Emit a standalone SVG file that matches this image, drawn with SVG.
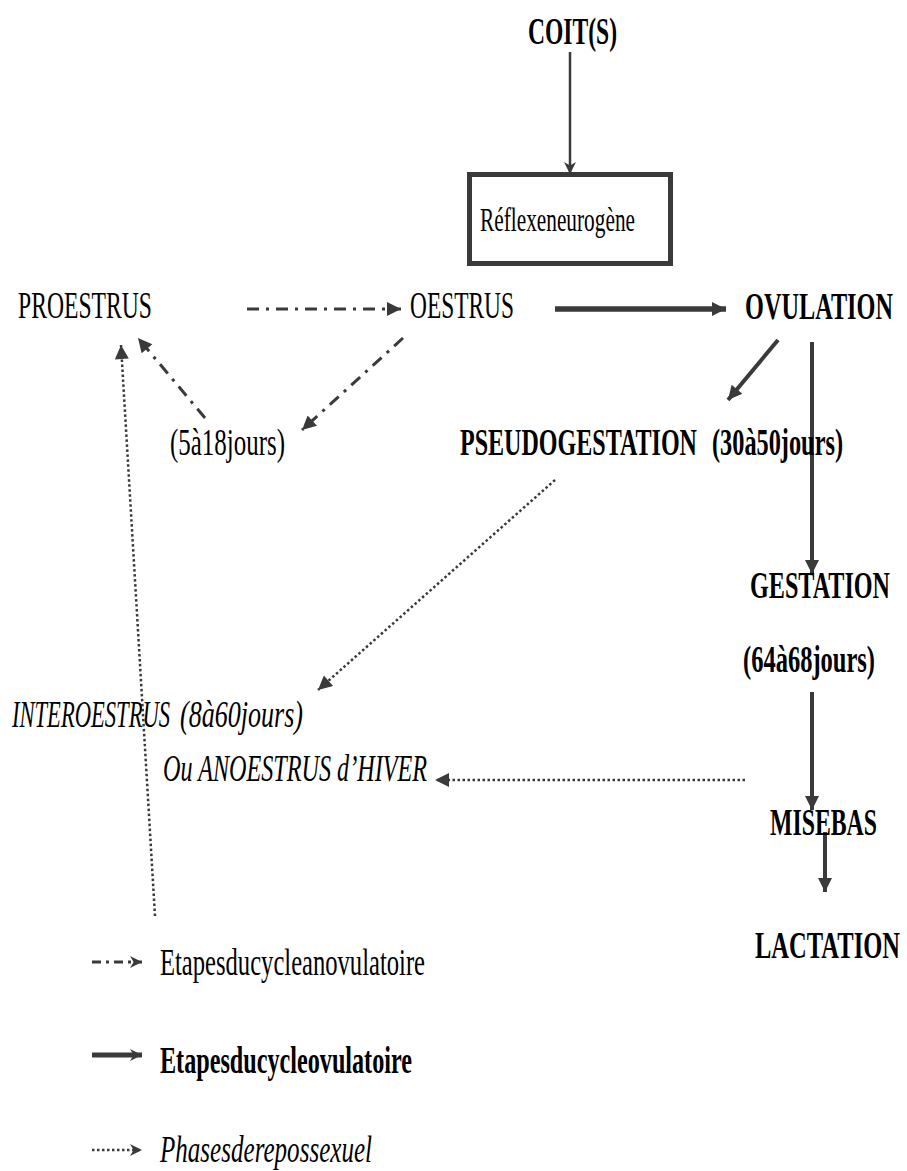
<svg xmlns="http://www.w3.org/2000/svg" width="907" height="1171" viewBox="0 0 907 1171">
<style>
.t{font-family:"Liberation Serif","Times New Roman",serif;fill:#000;font-size:37px}
.b{font-weight:bold}
.i{font-style:italic}
.ln{stroke:#3a3a3a;fill:none}
.dd{stroke-width:3;stroke-dasharray:12 7 3 7}
.dot{stroke-width:2.5;stroke-dasharray:2.5 2.5}
.thick{stroke-width:5.5}
.med{stroke-width:4}
.thin{stroke-width:2.5}
</style>
<defs>
<marker id="ah" viewBox="0 0 10 10" refX="10" refY="5" markerWidth="16" markerHeight="14" markerUnits="userSpaceOnUse" orient="auto"><path d="M0,0 L10,5 L0,10 z" fill="#3a3a3a"/></marker>
<marker id="ahs" viewBox="0 0 10 10" refX="10" refY="5" markerWidth="14" markerHeight="12" markerUnits="userSpaceOnUse" orient="auto"><path d="M0,0 L10,5 L0,10 L3,5 z" fill="#3a3a3a"/></marker>
</defs>
<rect width="907" height="1171" fill="#fff"/>
<g id="connectors">
<line class="ln thin" x1="570" y1="52" x2="570" y2="174" marker-end="url(#ahs)"/>
<line class="ln dd" x1="247" y1="309" x2="401" y2="309" marker-end="url(#ah)"/>
<line class="ln dd" x1="403" y1="338" x2="302" y2="430" marker-end="url(#ah)"/>
<line class="ln dd" x1="205" y1="418" x2="138" y2="338" marker-end="url(#ah)"/>
<line class="ln thick" x1="555" y1="309" x2="726" y2="309" marker-end="url(#ah)"/>
<line class="ln med" x1="778" y1="340" x2="728" y2="400" marker-end="url(#ah)"/>
<line class="ln med" x1="812" y1="342" x2="812" y2="574" marker-end="url(#ah)"/>
<line class="ln med" x1="812" y1="692" x2="812" y2="810" marker-end="url(#ah)"/>
<line class="ln med" x1="825" y1="832" x2="825" y2="892" marker-end="url(#ah)"/>
<line class="ln dot" x1="555" y1="480" x2="318" y2="690" marker-end="url(#ah)"/>
<line class="ln dot" x1="745" y1="780" x2="435" y2="780" marker-end="url(#ah)"/>
<line class="ln dot" x1="155" y1="916" x2="121" y2="345" marker-end="url(#ah)"/>
</g>
<g id="coit"><text class="t b" x="528" y="44" textLength="89" lengthAdjust="spacingAndGlyphs">COIT(S)</text></g>
<g id="reflexe">
<rect x="469.5" y="174.5" width="201" height="89" fill="none" stroke="#3a3a3a" stroke-width="5"/>
<text class="t" x="480" y="231" style="font-size:33px" textLength="155" lengthAdjust="spacingAndGlyphs">Réflexeneurogène</text>
</g>
<g id="proestrus"><text class="t" x="18" y="318" textLength="134" lengthAdjust="spacingAndGlyphs">PROESTRUS</text></g>
<g id="oestrus"><text class="t" x="410" y="318" textLength="104" lengthAdjust="spacingAndGlyphs">OESTRUS</text></g>
<g id="ovulation"><text class="t b" x="745" y="319" textLength="148" lengthAdjust="spacingAndGlyphs">OVULATION</text></g>
<g id="jours5"><text class="t" x="170" y="455" textLength="115" lengthAdjust="spacingAndGlyphs">(5à18jours)</text></g>
<g id="pseudogestation">
<text class="t b" x="460" y="455" textLength="237" lengthAdjust="spacingAndGlyphs">PSEUDOGESTATION</text>
<text class="t b" x="712" y="455" textLength="131" lengthAdjust="spacingAndGlyphs">(30à50jours)</text>
</g>
<g id="gestation">
<text class="t b" x="750" y="598" textLength="140" lengthAdjust="spacingAndGlyphs">GESTATION</text>
<text class="t b" x="743" y="672" textLength="132" lengthAdjust="spacingAndGlyphs">(64à68jours)</text>
</g>
<g id="interoestrus">
<text class="t i" x="12" y="727" textLength="158" lengthAdjust="spacingAndGlyphs">INTEROESTRUS</text>
<text class="t i" x="180" y="727" textLength="123" lengthAdjust="spacingAndGlyphs">(8à60jours)</text>
<text class="t i" x="163" y="781" textLength="264" lengthAdjust="spacingAndGlyphs">Ou ANOESTRUS d’HIVER</text>
</g>
<g id="misebas"><text class="t b" x="770" y="835" textLength="107" lengthAdjust="spacingAndGlyphs">MISEBAS</text></g>
<g id="lactation"><text class="t b" x="755" y="958" textLength="145" lengthAdjust="spacingAndGlyphs">LACTATION</text></g>
<g id="legend">
<line class="ln" stroke-width="3" stroke-dasharray="9 5 3 5" x1="92" y1="962" x2="142" y2="962" marker-end="url(#ahs)"/>
<text class="t" x="160" y="975" textLength="265" lengthAdjust="spacingAndGlyphs">Etapesducycleanovulatoire</text>
<line class="ln" stroke-width="5" x1="92" y1="1055" x2="142" y2="1055" marker-end="url(#ahs)"/>
<text class="t b" x="160" y="1073" textLength="252" lengthAdjust="spacingAndGlyphs">Etapesducycleovulatoire</text>
<line class="ln dot" x1="92" y1="1150" x2="142" y2="1150" marker-end="url(#ahs)"/>
<text class="t i" x="160" y="1162" textLength="212" lengthAdjust="spacingAndGlyphs">Phasesderepossexuel</text>
</g>
</svg>
